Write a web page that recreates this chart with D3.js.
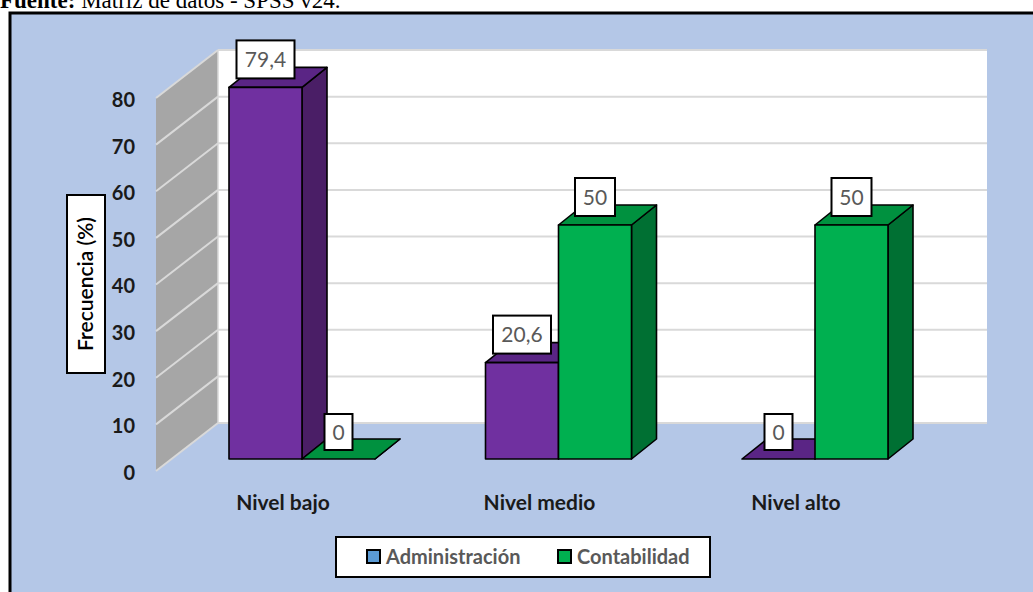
<!DOCTYPE html>
<html><head><meta charset="utf-8">
<script src="https://cdn.jsdelivr.net/npm/d3@7"></script>
<style>body{margin:0;background:#fff}svg{display:block}</style>
</head><body>
<svg id="c" width="1033" height="592"></svg>
<script>
const categories = ["Nivel bajo", "Nivel medio", "Nivel alto"];
const seriesNames = ["Administración", "Contabilidad"];
const administracion = [79.4, 20.6, 0];
const contabilidad = [0, 50, 50];
const valueLabels = [["79,4", "20,6", "0"], ["0", "50", "50"]];
const tickValues = [0, 10, 20, 30, 40, 50, 60, 70, 80];

const svg = d3.select("#c");
const font = "Lato, 'Open Sans', sans-serif";

// source line (cut at top, as in the reference)
const src = svg.append("text").attr("x", 0).attr("y", 8)
  .attr("font-family", "'Liberation Serif','Times New Roman',serif").attr("font-size", 23);
src.append("tspan").attr("font-weight", "bold").text("Fuente:");
src.append("tspan").text(" Matriz de datos - SPSS v24.");

// frame
svg.append("rect").attr("x", 10).attr("y", 13).attr("width", 1040).attr("height", 600)
  .attr("fill", "#B4C7E7").attr("stroke", "#000").attr("stroke-width", 3);

// scales
const yFront = d3.scaleLinear().domain([0, 80]).range([471, 98]);
const yBack = d3.scaleLinear().domain([0, 80]).range([423, 50]);
const yBar = d3.scaleLinear().domain([0, 80]).range([459, 84.6]);
const wallFrontX = 156, wallBackX = 218, wallRight = 987;
const depth = {dx: 25, dy: -20};

const x0 = d3.scaleBand().domain(categories).range([173.75, 943.25])
  .paddingInner(0.4308).paddingOuter(0.2154);
const x1 = d3.scaleBand().domain(seriesNames).range([0, x0.bandwidth()]);

// back wall
svg.append("rect").attr("x", wallBackX).attr("y", yBack(80)).attr("width", wallRight - wallBackX)
  .attr("height", yBack(0) - yBack(80)).attr("fill", "#fff");
// side wall
svg.append("polygon")
  .attr("points", [[wallFrontX, yFront(0)], [wallFrontX, yFront(80)], [wallBackX, yBack(80)], [wallBackX, yBack(0)]].join(" "))
  .attr("fill", "#A6A6A6");
// gridlines
const g = svg.append("g");
tickValues.forEach(v => {
  g.append("line").attr("x1", wallBackX).attr("x2", wallRight).attr("y1", yBack(v)).attr("y2", yBack(v))
    .attr("stroke", "#D9D9D9").attr("stroke-width", 2);
  g.append("line").attr("x1", wallFrontX).attr("x2", wallBackX).attr("y1", yFront(v)).attr("y2", yBack(v))
    .attr("stroke", "#D9D9D9").attr("stroke-width", 2);
});
g.append("line").attr("x1", wallBackX).attr("x2", wallBackX).attr("y1", yBack(0)).attr("y2", yBack(80))
  .attr("stroke", "#D9D9D9").attr("stroke-width", 1.5);

// axis
const axis = d3.axisLeft(yFront).tickValues(tickValues).tickSize(0).tickPadding(0);
const ax = svg.append("g").attr("transform", "translate(135,2)").call(axis);
ax.select(".domain").remove();
ax.selectAll("text").attr("font-family", font).attr("font-size", 20).attr("font-weight", "bold").attr("fill", "#1a1a1a");

// axis title
const tg = svg.append("g").attr("transform", "translate(86,284) rotate(-90)");
tg.append("rect").attr("x", -89).attr("y", -19).attr("width", 178).attr("height", 38)
  .attr("fill", "#fff").attr("stroke", "#000").attr("stroke-width", 2);
tg.append("text").attr("text-anchor", "middle").attr("dy", "0.35em")
  .attr("font-family", font).attr("font-size", 21).attr("font-weight", 600).attr("fill", "#000").text("Frecuencia (%)");

// bars
const colors = {
  "Administración": {front: "#7030A0", top: "#5A2585", side: "#4A1E66"},
  "Contabilidad": {front: "#00B050", top: "#00913F", side: "#007033"}
};
const data = [];
categories.forEach((c, i) => {
  data.push({cat: c, s: "Administración", v: administracion[i], lab: valueLabels[0][i]});
  data.push({cat: c, s: "Contabilidad", v: contabilidad[i], lab: valueLabels[1][i]});
});
const bars = svg.append("g");
data.forEach(d => {
  const xl = x0(d.cat) + x1(d.s), xr = xl + x1.bandwidth();
  const yt = yBar(d.v), yb = yBar(0);
  const c = colors[d.s];
  const poly = (pts, fill) => bars.append("polygon").attr("points", pts.join(" ")).attr("fill", fill)
    .attr("stroke", "#000").attr("stroke-width", 1.6).attr("stroke-linejoin", "round");
  poly([[xr, yb], [xr, yt], [xr + depth.dx, yt + depth.dy], [xr + depth.dx, yb + depth.dy]], c.side);
  poly([[xl, yt], [xr, yt], [xr + depth.dx, yt + depth.dy], [xl + depth.dx, yt + depth.dy]], c.top);
  if (d.v > 0) poly([[xl, yb], [xl, yt], [xr, yt], [xr, yb]], c.front);
});

// value labels
data.forEach(d => {
  const cx = x0(d.cat) + x1(d.s) + x1.bandwidth() / 2;
  const yb = yBar(d.v) - 9;
  const w = d.lab.length > 2 ? 58 : (d.lab.length === 2 ? 40 : 28);
  const h = d.lab.length > 1 ? 38 : 36;
  bars.append("rect").attr("x", cx - w / 2).attr("y", yb - h).attr("width", w).attr("height", h)
    .attr("fill", "#fff").attr("stroke", "#000").attr("stroke-width", 2);
  bars.append("text").attr("x", cx).attr("y", yb - h / 2).attr("dy", "0.36em").attr("text-anchor", "middle")
    .attr("font-family", font).attr("font-size", 21).attr("fill", "#595959").text(d.lab);
});

// category labels
categories.forEach(c => {
  svg.append("text").attr("x", x0(c) + x0.bandwidth() / 2 - 19).attr("y", 510).attr("text-anchor", "middle")
    .attr("font-family", font).attr("font-size", 21).attr("font-weight", "bold").attr("fill", "#1a1a1a").text(c);
});

// legend
const lg = svg.append("g");
lg.append("rect").attr("x", 336).attr("y", 537).attr("width", 374).attr("height", 40)
  .attr("fill", "#fff").attr("stroke", "#000").attr("stroke-width", 2);
const legCols = ["#5B9BD5", "#00B050"];
const legX = [367, 558];
seriesNames.forEach((s, i) => {
  lg.append("rect").attr("x", legX[i]).attr("y", 550).attr("width", 13).attr("height", 13)
    .attr("fill", legCols[i]).attr("stroke", "#000").attr("stroke-width", 2);
  lg.append("text").attr("x", legX[i] + 19).attr("y", 557).attr("dy", "0.35em")
    .attr("font-family", font).attr("font-size", 20).attr("font-weight", 700).attr("fill", "#595959").text(s);
});
</script>
</body></html>
